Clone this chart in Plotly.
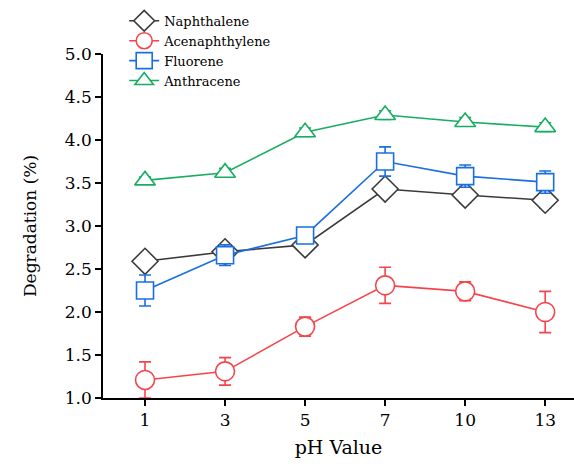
import plotly.graph_objects as go

ph_labels = ["1", "3", "5", "7", "10", "13"]

naphthalene = [2.59, 2.70, 2.78, 3.43, 3.36, 3.30]
naphthalene_err = [0.06, 0.08, 0.05, 0.08, 0.09, 0.09]

acenaphthylene = [1.21, 1.31, 1.83, 2.31, 2.24, 2.00]
acenaphthylene_err = [0.21, 0.16, 0.11, 0.21, 0.11, 0.24]

fluorene = [2.25, 2.66, 2.89, 3.75, 3.58, 3.51]
fluorene_err = [0.18, 0.12, 0.08, 0.17, 0.13, 0.13]

anthracene = [3.53, 3.62, 4.09, 4.29, 4.21, 4.15]
anthracene_err = [0.04, 0.05, 0.05, 0.05, 0.05, 0.05]

series = [
    ("Naphthalene", naphthalene, naphthalene_err, "#3a3a3a", "diamond", 20),
    ("Acenaphthylene", acenaphthylene, acenaphthylene_err, "#f4454b", "circle", 19),
    ("Fluorene", fluorene, fluorene_err, "#1a6fe0", "square", 17),
    ("Anthracene", anthracene, anthracene_err, "#17ad62", "triangle-up", 18),
]

FONT = "DejaVu Serif, serif"

fig = go.Figure()
for name, vals, errs, color, sym, size in series:
    fig.add_trace(go.Scatter(
        x=ph_labels, y=vals, name=name, mode="lines+markers",
        line=dict(color=color, width=1.6),
        marker=dict(symbol=sym, size=size, color="white",
                    line=dict(color=color, width=1.6)),
        error_y=dict(type="data", array=errs, visible=True,
                     color=color, thickness=1.6, width=6),
    ))

fig.update_layout(
    width=574, height=468,
    margin=dict(l=103, r=0, t=54, b=70),
    paper_bgcolor="white", plot_bgcolor="white",
    font=dict(family=FONT, color="black"),
    showlegend=True,
    legend=dict(x=0.045, y=1.14, xanchor="left", yanchor="top",
                bgcolor="rgba(0,0,0,0)", font=dict(size=13, family=FONT),
                tracegroupgap=0, itemwidth=30),
    xaxis=dict(
        type="category", range=[-0.525, 5.36],
        showline=True, linecolor="black", linewidth=1.5,
        ticks="outside", ticklen=6, tickwidth=1.5, tickcolor="black",
        showgrid=False, zeroline=False,
        tickfont=dict(size=17, family=FONT),
        title=dict(text="pH Value", font=dict(size=19, family=FONT), standoff=12),
    ),
    yaxis=dict(
        range=[1.0, 5.0], dtick=0.5, tickformat=".1f",
        showline=True, linecolor="black", linewidth=1.5,
        ticks="outside", ticklen=6, tickwidth=1.5, tickcolor="black",
        showgrid=False, zeroline=False,
        tickfont=dict(size=17, family=FONT),
        title=dict(text="Degradation (%)", font=dict(size=17, family=FONT), standoff=24),
    ),
)

fig.write_html("out.html", config={"displayModeBar": False},
               post_script="document.body.style.margin='0';document.body.style.overflow='hidden';")
